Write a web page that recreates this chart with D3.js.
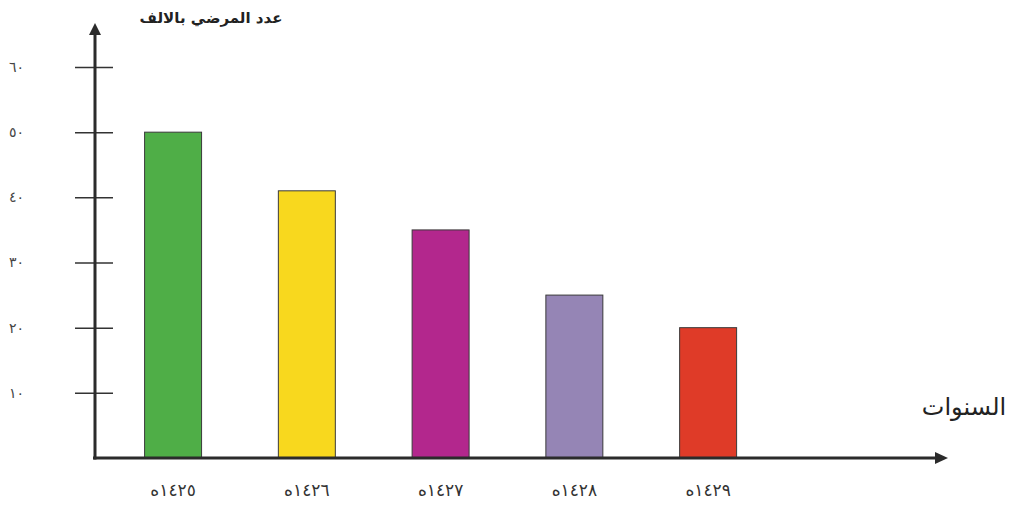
<!DOCTYPE html>
<html><head><meta charset="utf-8">
<script src="https://cdn.jsdelivr.net/npm/d3@7"></script>
<style>
html,body{margin:0;padding:0;background:#fff;}
svg{display:block;}
</style></head>
<body>
<svg id="c" width="1014" height="506"></svg>
<script>
const categories = ["١٤٢٥ه", "١٤٢٦ه", "١٤٢٧ه", "١٤٢٨ه", "١٤٢٩ه"];
const values = [50, 41, 35, 25, 20];
const colors = ["#4fae47", "#f8d81e", "#b3278d", "#9585b5", "#df3b28"];
const yTicks = [10, 20, 30, 40, 50, 60];
const yTickLabels = ["١٠", "٢٠", "٣٠", "٤٠", "٥٠", "٦٠"];
const yTitle = "عدد المرضي بالالف";
const xTitle = "السنوات";

const svg = d3.select("#c");
const font = "'DejaVu Sans', sans-serif";
const axisX = 95, axisY = 458;

const y = d3.scaleLinear().domain([0, 60]).range([axisY, 67]);
const x = d3.scaleBand().domain(categories).range([106.2, 775]).paddingInner(0.574).paddingOuter(0.287);

// bars
svg.append("g").selectAll("rect").data(values).join("rect")
  .attr("x", (d, i) => x(categories[i]))
  .attr("y", d => y(d))
  .attr("width", x.bandwidth())
  .attr("height", d => axisY - y(d))
  .attr("fill", (d, i) => colors[i])
  .attr("stroke", "#3a3a3a")
  .attr("stroke-width", 1);

// y axis
const yAxis = d3.axisLeft(y).tickValues(yTicks).tickSize(20)
  .tickFormat((d, i) => yTickLabels[i]);
const gy = svg.append("g").attr("transform", `translate(${axisX},0)`).call(yAxis);
gy.select(".domain").remove();
gy.selectAll(".tick line").attr("x1", -20).attr("x2", 18).attr("stroke", "#333").attr("stroke-width", 1.5);
gy.selectAll(".tick text").attr("x", -86).attr("text-anchor", "start")
  .attr("font-family", font).attr("font-size", 14).attr("letter-spacing", 2).attr("fill", "#444");

// x axis labels
const gx = svg.append("g").attr("transform", `translate(0,${axisY})`)
  .call(d3.axisBottom(x).tickSize(0).tickPadding(26));
gx.select(".domain").remove();
gx.selectAll(".tick text").attr("font-family", font).attr("font-size", 17)
  .attr("fill", "#333");

// axis lines
svg.append("line").attr("x1", axisX).attr("x2", axisX).attr("y1", axisY + 1.5).attr("y2", 32)
  .attr("stroke", "#2b2b2b").attr("stroke-width", 3);
svg.append("line").attr("x1", axisX - 2).attr("x2", 940).attr("y1", axisY).attr("y2", axisY)
  .attr("stroke", "#2b2b2b").attr("stroke-width", 3);
svg.append("path").attr("d", `M${axisX},23 L${axisX - 6},35 L${axisX + 6},35 Z`).attr("fill", "#2b2b2b");
svg.append("path").attr("d", `M948,${axisY} L935,${axisY - 6} L935,${axisY + 6} Z`).attr("fill", "#2b2b2b");

// titles
svg.append("text").attr("x", 211).attr("y", 23).attr("text-anchor", "middle")
  .attr("font-family", font).attr("font-size", 15).attr("font-weight", "bold").attr("fill", "#222")
  .text(yTitle);
svg.append("text").attr("x", 964).attr("y", 415).attr("text-anchor", "middle")
  .attr("font-family", font).attr("font-size", 24).attr("fill", "#222")
  .text(xTitle);
</script>
</body></html>
